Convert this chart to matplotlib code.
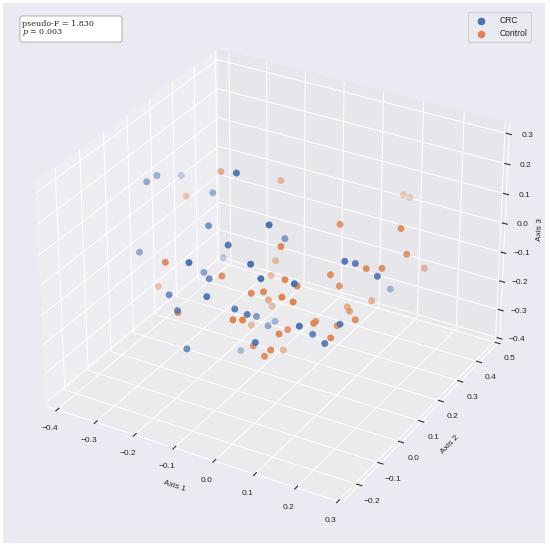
import numpy as np
import matplotlib
matplotlib.use("Agg")
import matplotlib.pyplot as plt
import seaborn as sns
from matplotlib.patches import Rectangle, FancyBboxPatch

sns.set_theme(style="darkgrid")
plt.rcParams['font.family'] = ['Liberation Sans', 'DejaVu Sans']
plt.rcParams['mathtext.fontset'] = 'dejavuserif'
plt.rcParams['grid.linewidth'] = 0.8
plt.rcParams['axes.linewidth'] = 0.8
plt.rcParams['xtick.major.width'] = 0.8
plt.rcParams['ytick.major.width'] = 0.8

# PCoA coordinates (Axis 1, Axis 2, Axis 3)
crc_x = [-0.366, -0.365, -0.377, -0.102, -0.249, -0.182, -0.001, -0.046, -0.079,
         -0.341, -0.249, -0.127, -0.014, 0.143, 0.151, -0.194, -0.138, 0.012,
         0.076, 0.198, 0.130, -0.204, -0.091, -0.180, -0.047, -0.021, -0.057,
         -0.057, -0.073, 0.107, 0.097, 0.155, 0.137, -0.142, -0.136, 0.022]
crc_y = [0.072, 0.115, 0.243, 0.010, 0.163, 0.026, -0.029, 0.126, -0.070,
         -0.008, 0.208, -0.156, -0.088, 0.046, 0.081, 0.023, -0.051, -0.090,
         -0.058, 0.094, 0.299, -0.113, -0.144, -0.119, -0.100, -0.092, 0.015,
         0.068, 0.130, -0.093, -0.012, 0.004, -0.032, -0.146, 0.084, -0.134]
crc_z = [0.154, 0.150, 0.071, 0.314, 0.106, 0.103, 0.207, 0.050, 0.137,
         -0.025, -0.143, 0.115, 0.111, 0.097, 0.071, -0.056, -0.009, 0.075,
         0.063, 0.039, -0.162, -0.049, 0.010, -0.088, -0.042, -0.055, -0.146,
         -0.213, -0.245, -0.041, -0.126, -0.079, -0.127, -0.184, -0.342, -0.103]

ctrl_x = [-0.231, -0.126, -0.327, 0.066, 0.080, 0.076, 0.204, 0.005, 0.216,
          -0.105, -0.214, 0.161, 0.190, 0.196, -0.102, -0.106, 0.030, 0.056,
          0.098, 0.108, -0.330, -0.025, -0.003, -0.057, 0.047, 0.070, -0.087,
          0.126, 0.083, 0.115, 0.168, -0.164, -0.031, -0.013, -0.116, 0.048,
          0.035, 0.106, 0.083, 0.125, 0.145, -0.020, 0.041, -0.028, 0.020]
ctrl_y = [0.169, 0.256, 0.178, 0.489, 0.494, 0.153, 0.193, 0.013, 0.200,
          0.193, -0.109, 0.114, 0.132, 0.335, -0.058, 0.172, -0.015, -0.007,
          0.067, 0.091, 0.052, -0.066, -0.051, 0.070, -0.060, -0.052, 0.142,
          0.215, 0.180, 0.128, 0.051, -0.144, -0.137, -0.127, 0.098, -0.075,
          -0.011, -0.025, 0.029, 0.049, -0.020, -0.067, -0.100, 0.086, -0.089]
ctrl_z = [0.180, 0.137, 0.057, 0.021, 0.014, 0.127, 0.137, 0.113, 0.052,
          -0.089, 0.053, 0.037, 0.038, -0.087, 0.019, -0.127, 0.031, 0.015,
          0.022, -0.027, -0.176, -0.003, 0.001, -0.126, 0.009, -0.003, -0.206,
          -0.149, -0.165, -0.133, -0.090, -0.072, -0.047, -0.047, -0.254, -0.103,
          -0.136, -0.077, -0.115, -0.126, -0.113, -0.176, -0.143, -0.297, -0.180]

pseudo_f = 1.830
p_value = 0.003

x_ticks = np.round(np.arange(-0.4, 0.31, 0.1), 1)
y_ticks = np.round(np.arange(-0.2, 0.51, 0.1), 1)
z_ticks = np.round(np.arange(-0.4, 0.31, 0.1), 1)

bg = '#EAEAF2'
fig = plt.figure(figsize=(5.5, 5.48), dpi=100, facecolor='white')
fig.patches.append(Rectangle((3 / 550, 5 / 548), 542 / 550, 540 / 548,
                             transform=fig.transFigure, facecolor=bg,
                             edgecolor='none', zorder=-10))

size = 527.5
ax = fig.add_axes([6 / 550, 12 / 548, size / 550, size / 548], projection='3d')
ax.set_facecolor(bg)

ax.scatter(crc_x, crc_y, crc_z, s=25, color='#4C72B0', linewidths=0, label='CRC')
ax.scatter(ctrl_x, ctrl_y, ctrl_z, s=25, color='#DD8452', linewidths=0, label='Control')

ax.set_xlim(-0.43, 0.31)
ax.set_ylim(-0.28, 0.51)
ax.set_zlim(-0.41, 0.335)
ax.set_xticks(x_ticks)
ax.set_yticks(y_ticks)
ax.set_zticks(z_ticks)
for axis in (ax.xaxis, ax.yaxis, ax.zaxis):
    axis._axinfo['tick']['inward_factor'] = 0.1
    axis._axinfo['tick']['outward_factor'] = 0.12
    axis._axinfo['tick']['linewidth'] = {True: 0.8, False: 0.5}
    axis._axinfo['grid']['linewidth'] = 0.7
    axis._axinfo['axisline']['linewidth'] = 0.7
ax.tick_params(labelsize=6, pad=0)
ax.set_xlabel('Axis 1', fontsize=6, labelpad=-4)
ax.set_ylabel('Axis 2', fontsize=6, labelpad=-4)
ax.set_zlabel('Axis 3', fontsize=6, labelpad=-5)

ax.legend(loc='upper right', bbox_to_anchor=(531 / 550, 1 - 12 / 548),
          bbox_transform=fig.transFigure, fontsize=6.2, frameon=True,
          borderaxespad=0, borderpad=0.45, handletextpad=1.0, handlelength=2.2,
          markerscale=1.1)

fig.patches.append(FancyBboxPatch((20 / 550, 1 - 42 / 548), 102 / 550, 26 / 548,
                                  boxstyle='round,pad=0,rounding_size=0.004',
                                  transform=fig.transFigure, facecolor='white',
                                  edgecolor='#b0b0b0', linewidth=0.7, zorder=5))
fig.text(22 / 550, 1 - 29 / 548,
         'pseudo-F = {:.3f}\n$p$ = {:.3f}'.format(pseudo_f, p_value),
         family='DejaVu Serif', fontsize=5.8, va='center', ha='left',
         linespacing=0.95, zorder=6)

fig.savefig('out.png', dpi=100, facecolor='white')
